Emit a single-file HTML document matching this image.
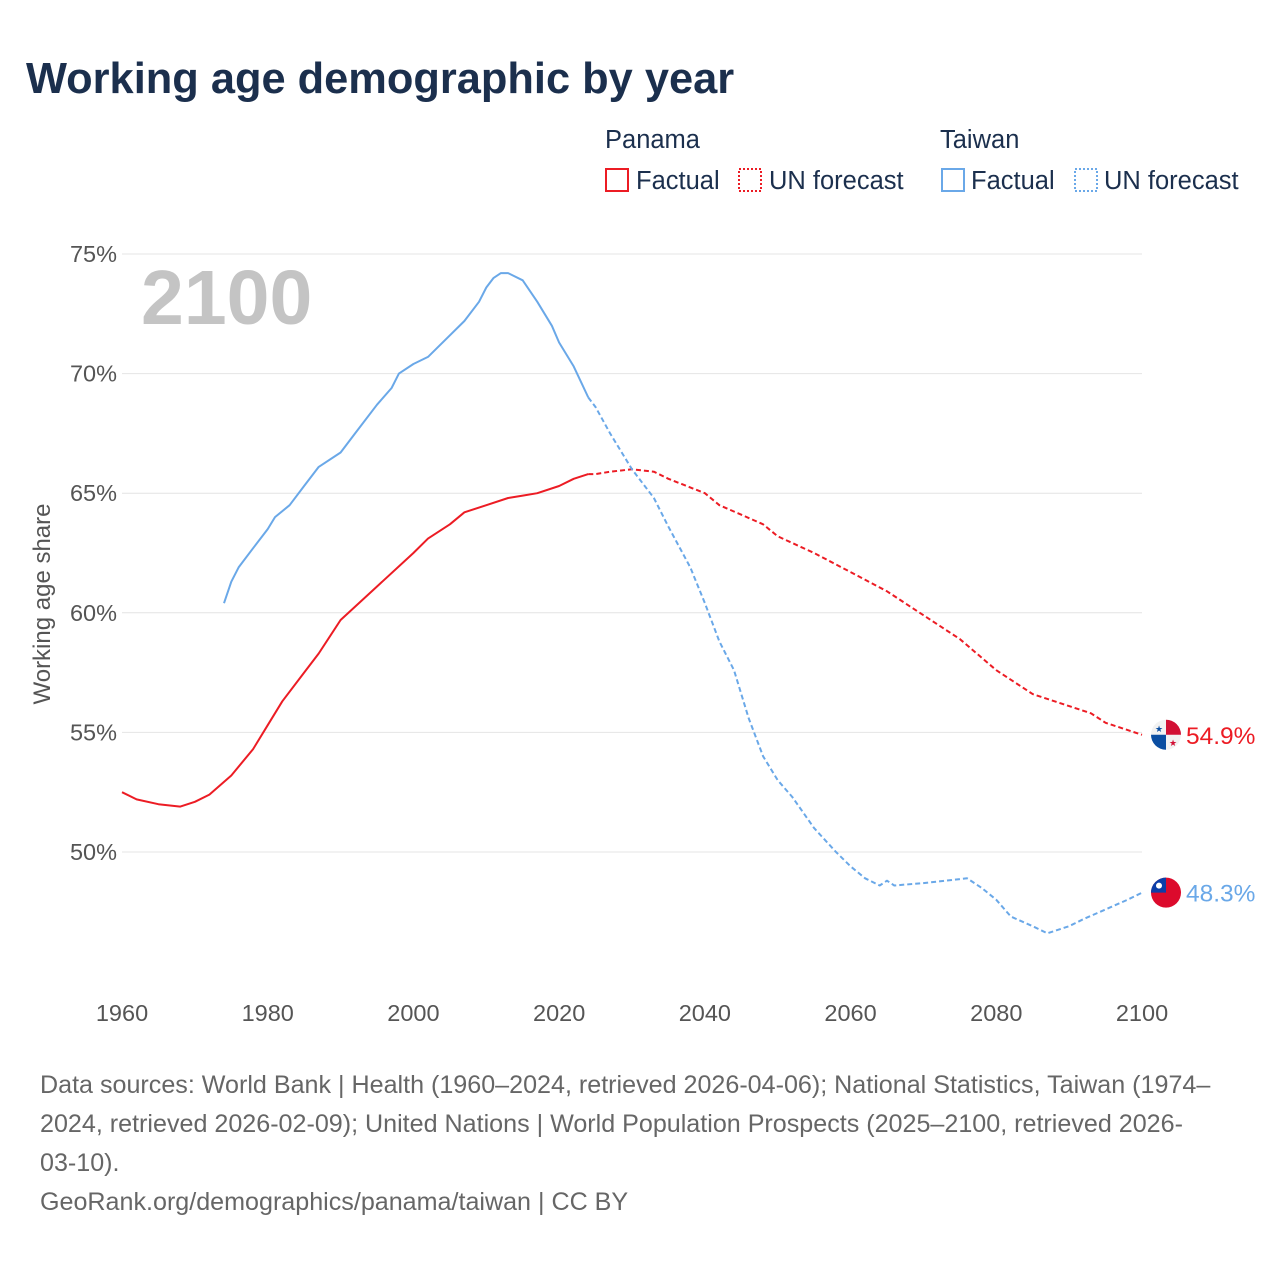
<!DOCTYPE html>
<html><head><meta charset="utf-8"><style>
body{margin:0;background:#fff;width:1280px;height:1280px;overflow:hidden;font-family:"Liberation Sans",sans-serif}
</style></head><body>
<svg id="chart" width="1280" height="1280" xmlns="http://www.w3.org/2000/svg" font-family="Liberation Sans, sans-serif">
<text x="26" y="93" font-size="43.4" font-weight="bold" fill="#1b2f4d">Working age demographic by year</text>
<g font-size="25.5" fill="#1b2f4d">
<text x="605" y="148">Panama</text>
<rect x="606" y="169" width="22" height="22" fill="none" stroke="#ec1c24" stroke-width="2"/>
<text x="636" y="189">Factual</text>
<rect x="739" y="169" width="22" height="22" fill="none" stroke="#ec1c24" stroke-width="2" stroke-dasharray="2,2"/>
<text x="769" y="189">UN forecast</text>
<text x="940" y="148">Taiwan</text>
<rect x="942" y="169" width="22" height="22" fill="none" stroke="#6aa8e8" stroke-width="2"/>
<text x="971" y="189">Factual</text>
<rect x="1075" y="169" width="22" height="22" fill="none" stroke="#6aa8e8" stroke-width="2" stroke-dasharray="2,2"/>
<text x="1104" y="189">UN forecast</text>
</g>
<text x="141" y="324" font-size="77" font-weight="bold" fill="#c4c4c4">2100</text>
<text transform="translate(50,604) rotate(-90)" text-anchor="middle" font-size="24" fill="#555">Working age share</text>
<g id="grid"></g><g id="series"></g>
<g font-size="25.1" fill="#666">
<text x="40" y="1093">Data sources: World Bank | Health (1960–2024, retrieved 2026-04-06); National Statistics, Taiwan (1974–</text>
<text x="40" y="1132">2024, retrieved 2026-02-09); United Nations | World Population Prospects (2025–2100, retrieved 2026-</text>
<text x="40" y="1171">03-10).</text>
<text x="40" y="1210">GeoRank.org/demographics/panama/taiwan | CC BY</text>
</g>
</svg>
<script>
const yTicks=[50,55,60,65,70,75];
const xTicks=[1960,1980,2000,2020,2040,2060,2080,2100];
const panamaYears=[1960,1962,1965,1968,1970,1972,1975,1978,1980,1982,1985,1987,1990,1995,2000,2002,2005,2007,2010,2013,2015,2017,2020,2022,2024];
const panamaVals=[52.5,52.2,52.0,51.9,52.1,52.4,53.2,54.3,55.3,56.3,57.5,58.3,59.7,61.1,62.5,63.1,63.7,64.2,64.5,64.8,64.9,65.0,65.3,65.6,65.8];
const panamaFcYears=[2024,2025,2027,2030,2033,2035,2040,2042,2045,2048,2050,2055,2060,2065,2070,2075,2080,2085,2090,2093,2095,2100];
const panamaFcVals=[65.8,65.8,65.9,66.0,65.9,65.6,65.0,64.5,64.1,63.7,63.2,62.5,61.7,60.9,59.9,58.9,57.6,56.6,56.1,55.8,55.4,54.9];
const taiwanYears=[1974,1975,1976,1978,1980,1981,1983,1985,1987,1990,1992,1995,1997,1998,2000,2002,2005,2007,2009,2010,2011,2012,2013,2015,2017,2019,2020,2022,2024];
const taiwanVals=[60.4,61.3,61.9,62.7,63.5,64.0,64.5,65.3,66.1,66.7,67.5,68.7,69.4,70.0,70.4,70.7,71.6,72.2,73.0,73.6,74.0,74.2,74.2,73.9,73.0,72.0,71.3,70.3,69.0];
const taiwanFcYears=[2024,2025,2027,2030,2033,2035,2038,2040,2042,2044,2046,2048,2050,2052,2055,2058,2060,2062,2064,2065,2066,2070,2073,2076,2078,2080,2082,2085,2087,2090,2092,2095,2098,2100];
const taiwanFcVals=[69.0,68.6,67.5,66.0,64.8,63.6,61.9,60.4,58.8,57.6,55.6,54.0,53.0,52.3,51.0,50.0,49.4,48.9,48.6,48.8,48.6,48.7,48.8,48.9,48.5,48.0,47.3,46.9,46.6,46.9,47.2,47.6,48.0,48.3];
const NS="http://www.w3.org/2000/svg";
const X=y=>122+(y-1960)*(1020/140);
const Y=v=>852-(v-50)*(598/25);
function mk(tag,attrs,parent){const e=document.createElementNS(NS,tag);for(const k in attrs)e.setAttribute(k,attrs[k]);parent.appendChild(e);return e;}
const grid=document.getElementById('grid'),ser=document.getElementById('series');
yTicks.forEach(t=>{
 const l=mk('line',{x1:122,x2:1142,y1:Y(t),y2:Y(t),stroke:'#e4e4e4','stroke-width':1},grid);
 
 
 const tx=mk('text',{x:117,y:Y(t)+8,'text-anchor':'end','font-size':23.5,fill:'#555'},grid);
 tx.textContent=t+'%';
 
 
});
xTicks.forEach(t=>{
 const tx=mk('text',{x:X(t),y:1021,'text-anchor':'middle','font-size':23.5,fill:'#555'},grid);
 tx.textContent=t;
 
 
});
function line(ys,vs,color,dash,name){
 const d=ys.map((y,i)=>(i?'L':'M')+X(y).toFixed(1)+','+Y(vs[i]).toFixed(1)).join('');
 const p=mk('path',{d:d,fill:'none',stroke:color,'stroke-width':2,'stroke-linejoin':'round'},ser);
 if(dash)p.setAttribute('stroke-dasharray','5,3');
 
 
}
line(panamaYears,panamaVals,'#ec1c24',false,'panama-factual-line');
line(panamaFcYears,panamaFcVals,'#ec1c24',true,'panama-forecast-line');
line(taiwanYears,taiwanVals,'#6aa8e8',false,'taiwan-factual-line');
line(taiwanFcYears,taiwanFcVals,'#6aa8e8',true,'taiwan-forecast-line');
const pv=panamaFcVals[panamaFcVals.length-1],tv=taiwanFcVals[taiwanFcVals.length-1];
const px=1166,py=Y(pv),ty=Y(tv);
const pf=mk('g',{},ser);


mk('circle',{cx:px,cy:py,r:15,fill:'#f2f2f2'},pf);
mk('path',{d:`M${px},${py}L${px},${py-15}A15,15 0 0 1 ${px+15},${py}Z`,fill:'#d21034'},pf);
mk('path',{d:`M${px},${py}L${px},${py+15}A15,15 0 0 1 ${px-15},${py}Z`,fill:'#0b4ea2'},pf);
mk('text',{x:px-7,y:py-3,'font-size':9,'text-anchor':'middle',fill:'#0b4ea2'},pf).textContent='★';
mk('text',{x:px+7,y:py+11,'font-size':9,'text-anchor':'middle',fill:'#d21034'},pf).textContent='★';
const tf=mk('g',{},ser);


mk('circle',{cx:px,cy:ty,r:15,fill:'#dc0a2c'},tf);
mk('path',{d:`M${px-15},${ty}A15,15 0 0 1 ${px},${ty-15}L${px},${ty}Z`,fill:'#0b3ea8'},tf);
mk('circle',{cx:px-7,cy:ty-7,r:3,fill:'#fff'},tf);
const l1=mk('text',{x:1186,y:py+9,'font-size':24.5,fill:'#ec1c24'},ser);
l1.textContent=pv.toFixed(1)+'%';


const l2=mk('text',{x:1186,y:ty+9,'font-size':24.5,fill:'#6aa8e8'},ser);
l2.textContent=tv.toFixed(1)+'%';


</script>
</body></html>
